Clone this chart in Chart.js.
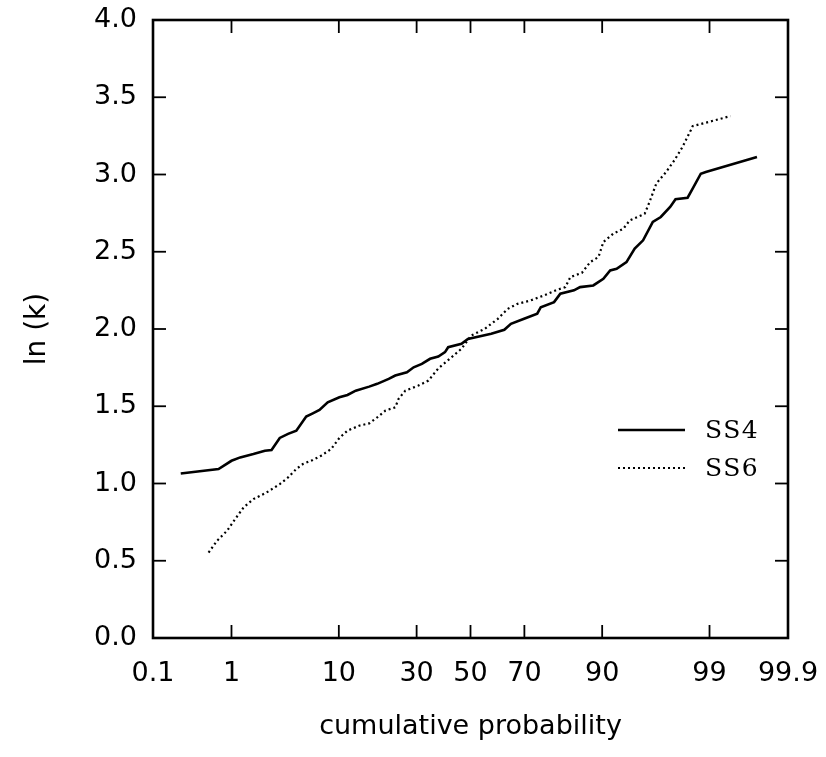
<!DOCTYPE html>
<html><head><meta charset="utf-8">
<script src="https://cdn.jsdelivr.net/npm/chart.js@4/dist/chart.umd.min.js"></script>
<style>html,body{margin:0;padding:0;background:#fff}</style>
</head><body>
<canvas id="c" width="826" height="757"></canvas>
<script>
// ---- data (cumulative probability in %, ln(k)) ----
const xTickLabels = [0.1, 1, 10, 30, 50, 70, 90, 99, 99.9];
const yMin = 0, yMax = 4, yStep = 0.5;

const ss4Prob = [0.24, 0.71, 1.0, 1.25, 1.73, 2.27, 2.64, 3.17, 3.79, 4.5, 5.49, 6.24, 7.08, 8.23, 10.1, 11.56, 13.2, 16.2, 18.2, 21.3, 23.2, 26.8, 29.0, 31.8, 34.7, 37.7, 40.2, 41.4, 46.5, 49.0, 58.0, 62.9, 65.3, 69.9, 74.2, 75.3, 79.2, 80.9, 84.3, 85.7, 88.4, 90.2, 91.3, 92.25, 93.55, 94.5, 95.35, 96.2, 96.8, 97.4, 97.7, 98.27, 98.47, 98.75, 98.9, 99.735];
const ss4LnK  = [1.065, 1.094, 1.147, 1.169, 1.191, 1.212, 1.217, 1.295, 1.321, 1.342, 1.433, 1.454, 1.476, 1.525, 1.558, 1.573, 1.601, 1.627, 1.645, 1.677, 1.699, 1.72, 1.752, 1.774, 1.807, 1.822, 1.85, 1.882, 1.904, 1.936, 1.969, 1.995, 2.033, 2.066, 2.099, 2.141, 2.174, 2.228, 2.25, 2.271, 2.282, 2.325, 2.379, 2.39, 2.433, 2.52, 2.574, 2.693, 2.725, 2.79, 2.84, 2.85, 2.908, 3.005, 3.016, 3.114];

const ss6Prob = [0.54, 0.68, 0.89, 1.10, 1.36, 1.73, 2.36, 3.17, 3.79, 4.5, 5.14, 6.24, 7.3, 8.74, 10.1, 11.56, 13.9, 16.2, 18.2, 20.4, 23.2, 24.2, 26.3, 30.6, 34.1, 37.7, 42.7, 46.5, 50.3, 55.4, 60.5, 64.1, 67.65, 72.1, 76.3, 80.1, 82.2, 83.45, 86.1, 87.8, 89.36, 90.2, 91.77, 93.15, 93.94, 95.5, 95.93, 96.47, 97.15, 97.64, 98.05, 98.4, 98.47, 98.99, 99.43];
const ss6LnK  = [0.553, 0.629, 0.694, 0.77, 0.845, 0.899, 0.942, 0.996, 1.039, 1.094, 1.126, 1.152, 1.18, 1.223, 1.295, 1.342, 1.374, 1.389, 1.428, 1.472, 1.493, 1.548, 1.601, 1.634, 1.666, 1.745, 1.817, 1.872, 1.958, 2.0, 2.066, 2.13, 2.163, 2.185, 2.217, 2.254, 2.271, 2.336, 2.364, 2.433, 2.466, 2.563, 2.617, 2.649, 2.703, 2.746, 2.822, 2.941, 3.016, 3.092, 3.179, 3.287, 3.313, 3.341, 3.378];

const seriesNames = ['SS4', 'SS6'];

// inverse normal CDF (probability-paper axis), input in percent
function probit(pct){
  const p = pct/100;
  const a=[-3.969683028665376e+01,2.209460984245205e+02,-2.759285104469687e+02,1.383577518672690e+02,-3.066479806614716e+01,2.506628277459239e+00];
  const b=[-5.447609879822406e+01,1.615858368580409e+02,-1.556989798598866e+02,6.680131188771972e+01,-1.328068155288572e+01];
  const c=[-7.784894002430293e-03,-3.223964580411365e-01,-2.400758276161838e+00,-2.549732539343734e+00,4.374664141464968e+00,2.938163982698783e+00];
  const d=[7.784695709041462e-03,3.224671290700398e-01,2.445134137142996e+00,3.754408661907416e+00];
  const pl=0.02425, ph=1-pl; let q,r;
  if(p<pl){q=Math.sqrt(-2*Math.log(p));return (((((c[0]*q+c[1])*q+c[2])*q+c[3])*q+c[4])*q+c[5])/((((d[0]*q+d[1])*q+d[2])*q+d[3])*q+1);}
  if(p>ph){q=Math.sqrt(-2*Math.log(1-p));return -(((((c[0]*q+c[1])*q+c[2])*q+c[3])*q+c[4])*q+c[5])/((((d[0]*q+d[1])*q+d[2])*q+d[3])*q+1);}
  q=p-0.5;r=q*q;return (((((a[0]*r+a[1])*r+a[2])*r+a[3])*r+a[4])*r+a[5])*q/(((((b[0]*r+b[1])*r+b[2])*r+b[3])*r+b[4])*r+1);
}
const toPts = (ps, vs) => ps.map((p,i)=>({x: probit(p), y: vs[i]}));

const FONT = '"DejaVu Sans", sans-serif';

const framePlugin = {
  id: 'frame',
  afterDatasetsDraw(chart){
    const {ctx, chartArea:{left,right,top,bottom}, scales:{x,y}} = chart;
    ctx.save();
    ctx.strokeStyle = '#000';
    ctx.lineWidth = 1.8;
    const tl = 13;
    x.ticks.forEach(t=>{
      const px = x.getPixelForValue(t.value);
      ctx.beginPath(); ctx.moveTo(px,bottom); ctx.lineTo(px,bottom-tl); ctx.stroke();
      ctx.beginPath(); ctx.moveTo(px,top); ctx.lineTo(px,top+tl); ctx.stroke();
    });
    y.ticks.forEach(t=>{
      const py = y.getPixelForValue(t.value);
      ctx.beginPath(); ctx.moveTo(left,py); ctx.lineTo(left+tl,py); ctx.stroke();
      ctx.beginPath(); ctx.moveTo(right,py); ctx.lineTo(right-tl,py); ctx.stroke();
    });
    ctx.lineWidth = 2.6;
    ctx.strokeRect(left, top, right-left, bottom-top);
    // legend
    const ds = chart.data.datasets;
    const lx0 = right - 170, lx1 = right - 103, tx = right - 83;
    const ys = [bottom - 208, bottom - 170];
    ds.forEach((d,i)=>{
      ctx.beginPath();
      ctx.strokeStyle = d.borderColor;
      ctx.lineWidth = d.borderWidth;
      ctx.setLineDash(d.borderDash || []);
      ctx.moveTo(lx0, ys[i]); ctx.lineTo(lx1, ys[i]); ctx.stroke();
      ctx.setLineDash([]);
      ctx.fillStyle = '#000';
      ctx.font = '25px "DejaVu Serif", serif';
      ctx.letterSpacing = '1.5px';
      ctx.textBaseline = 'middle';
      ctx.textAlign = 'left';
      ctx.fillText(d.label, tx, ys[i]+1);
    });
    ctx.restore();
  }
};

new Chart(document.getElementById('c'), {
  type: 'line',
  data: {
    datasets: [
      {label: seriesNames[0], data: toPts(ss4Prob, ss4LnK), borderColor:'#000', borderWidth:2.6, pointRadius:0, tension:0, fill:false},
      {label: seriesNames[1], data: toPts(ss6Prob, ss6LnK), borderColor:'#000', borderWidth:2.2, borderDash:[2,3], pointRadius:0, tension:0, fill:false}
    ]
  },
  options: {
    responsive: false,
    animation: false,
    devicePixelRatio: 1,
    layout: {padding: {top: 20, right: 38, bottom: 0, left: 0}},
    plugins: {legend:{display:false}, tooltip:{enabled:false}},
    scales: {
      x: {
        type: 'linear',
        min: probit(xTickLabels[0]),
        max: probit(xTickLabels[xTickLabels.length-1]),
        afterBuildTicks: s => { s.ticks = xTickLabels.map(p=>({value: probit(p)})); },
        afterFit: s => { s.height = 119; s.paddingLeft = 0; s.paddingRight = 0; },
        grid: {display:false, drawTicks:false},
        border: {display:false},
        ticks: {
          autoSkip:false, maxRotation:0, padding: 20, color:'#000',
          font: {family: FONT, size: 27},
          callback: (v, i) => String(xTickLabels[i])
        },
        title: {display:true, text:'cumulative probability', color:'#000', font:{family:FONT, size:27}, padding:{top:0, bottom:14}}
      },
      y: {
        min: yMin, max: yMax,
        afterFit: s => { s.width = 153; s.paddingTop = 0; s.paddingBottom = 0; },
        grid: {display:false, drawTicks:false},
        border: {display:false},
        ticks: {stepSize: yStep, padding: 16, color:'#000', font:{family:FONT, size:27}, callback: v => v.toFixed(1)},
        title: {display:true, text:'ln (k)', color:'#000', font:{family:FONT, size:28}, padding:{top:21, bottom:0}}
      }
    }
  },
  plugins: [framePlugin]
});
</script>
</body></html>
